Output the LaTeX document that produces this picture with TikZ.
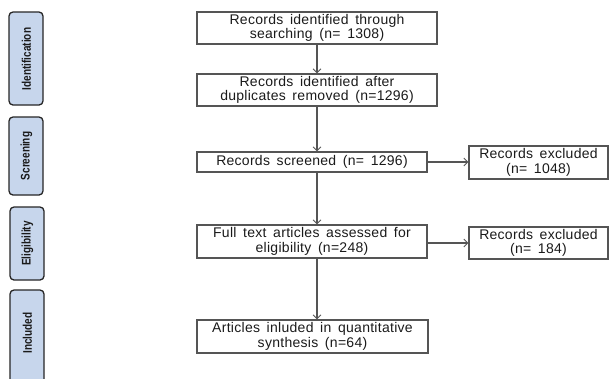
\documentclass[tikz,border=0pt]{standalone}
\usepackage{fontspec}
\setmainfont{Liberation Sans}[LetterSpace=2,WordSpace=1.6]
\newfontfamily\phasefont{Liberation Sans}[FakeStretch=0.8, BoldFont={Liberation Sans Bold}]
\usetikzlibrary{arrows.meta}
\definecolor{phasefill}{HTML}{C7D6EC}
\definecolor{linegray}{HTML}{555555}
\definecolor{textgray}{HTML}{1A1A1A}
\tikzset{
  phase/.style={draw=black!85, line width=1.3pt, rounded corners=4pt, fill=phasefill},
  flowbox/.style={draw=linegray, line width=1.1pt, align=center, text=textgray, font=\fontsize{14}{14.5}\selectfont, inner sep=0pt},
  flowarrow/.style={draw=linegray, line width=1.1pt, -{Straight Barb[length=4pt,width=8pt,line width=0.9pt]}},
  phaselabel/.style={rotate=90, text=textgray, font=\phasefont\bfseries\fontsize{12.5}{14}\selectfont}
}
\begin{document}
\begin{tikzpicture}[x=1pt,y=1pt]
\useasboundingbox (0,0) rectangle (612,-378);
\clip (0,0) rectangle (612,-378);
% phase boxes
\draw[phase] (9,-12) rectangle (43,-105);
\node[phaselabel] (pid) at (26.5,-59) {Identification};
\draw[phase] (9,-117) rectangle (43,-195);
\node[phaselabel] (psc) at (26.5,-156) {Screening};
\draw[phase] (10,-207) rectangle (44,-280);
\node[phaselabel] (pel) at (27.5,-243.5) {Eligibility};
\draw[phase] (10,-290) rectangle (44,-395);
\node[phaselabel] (pin) at (27.5,-333) {Included};
% flow boxes
\node[flowbox, minimum width=240pt, minimum height=32pt] (b1) at (317,-28) {Records identified through\\searching (n= 1308)};
\node[flowbox, minimum width=240pt, minimum height=32pt] (b2) at (317,-90) {Records identified after\\duplicates removed (n=1296)};
\node[flowbox, minimum width=230pt, minimum height=20pt] (b3) at (312,-162) {Records screened (n= 1296)};
\node[flowbox, minimum width=139pt, minimum height=33pt] (e1) at (538.5,-162.5) {Records excluded\\(n= 1048)};
\node[flowbox, minimum width=230pt, minimum height=33pt] (b4) at (312,-241.5) {Full text articles assessed for\\eligibility (n=248)};
\node[flowbox, minimum width=139pt, minimum height=32pt] (e2) at (538.5,-243) {Records excluded\\(n= 184)};
\node[flowbox, minimum width=231pt, minimum height=33pt] (b5) at (312.5,-336.5) {Articles inluded in quantitative\\synthesis (n=64)};
% arrows
\draw[flowarrow] (b1.south -| 317,0) -- (b2.north -| 317,0);
\draw[flowarrow] (b2.south -| 317,0) -- (b3.north -| 317,0);
\draw[flowarrow] (b3.south -| 317,0) -- (b4.north -| 317,0);
\draw[flowarrow] (b4.south -| 317,0) -- (b5.north -| 317,0);
\draw[flowarrow] (b3.east) -- (e1.west |- b3.east);
\draw[flowarrow] (b4.east |- e2.west) -- (e2.west);
\end{tikzpicture}
\end{document}
